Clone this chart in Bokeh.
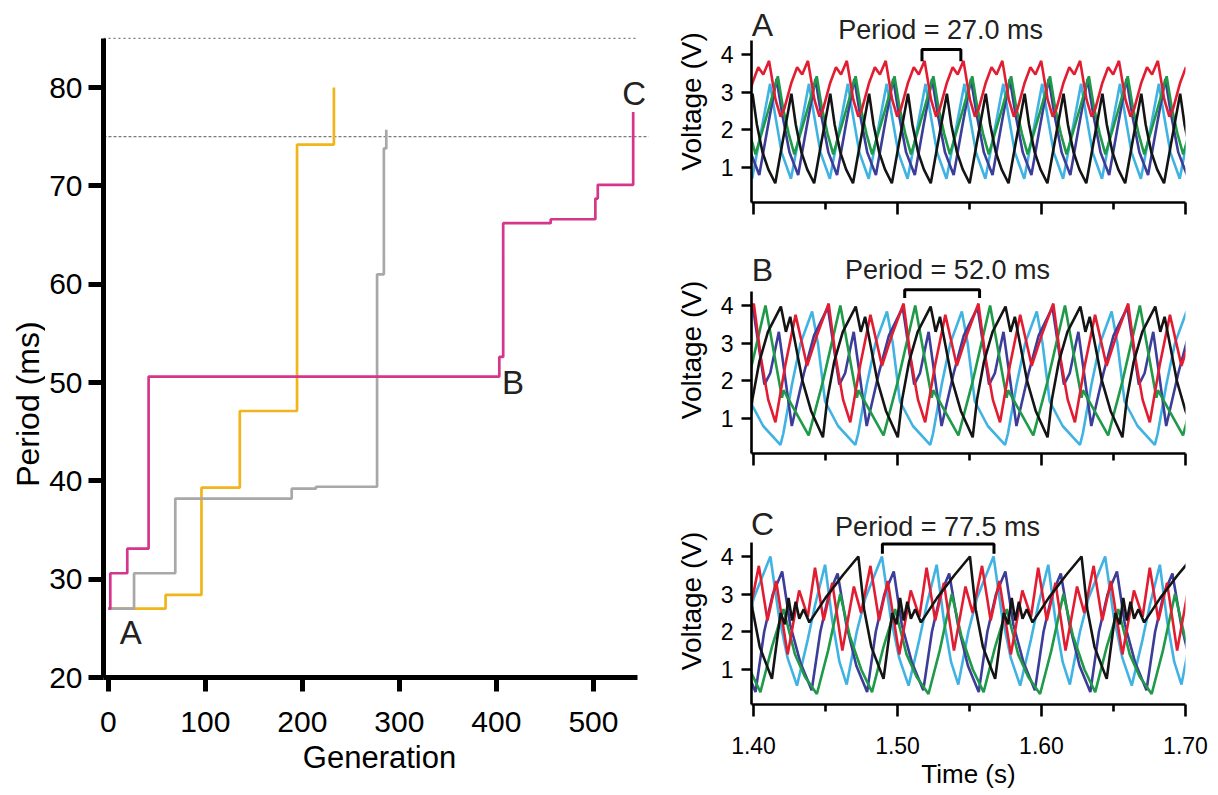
import numpy as np
from bokeh.plotting import figure
from bokeh.layouts import row, column
from bokeh.models import (Label, FixedTicker, Range1d, NumeralTickFormatter,
                          CustomJSTickFormatter)
from bokeh.core.properties import value
from bokeh.embed import file_html
from bokeh.resources import INLINE

FONT = "Liberation Sans"

# ---------------- Left panel: best period vs generation (step traces) ----------------
gen_yellow = [0, 59, 96, 135.5, 194.5, 232.5]
period_yellow = [27.0, 28.4, 39.3, 47.1, 74.2, 80.0]
gen_gray = [0, 26.5, 69, 189, 214, 277, 284, 286.5]
period_gray = [27.0, 30.6, 38.2, 39.2, 39.4, 61.0, 73.8, 75.7]
gen_magenta = [0, 2, 19.5, 41.5, 403, 407, 456, 502, 504.5, 541]
period_magenta = [27.0, 30.6, 33.1, 50.6, 52.6, 66.2, 66.6, 68.7, 70.1, 77.5]

gen_ticks = [0, 100, 200, 300, 400, 500]
period_ticks = [20, 30, 40, 50, 60, 70, 80]
ref_periods = [85, 75]
ref_line_gen_end = [545, 557]

marker_names = ["A", "B", "C"]
marker_gen = [23, 417, 542]
marker_period = [24.6, 50.0, 79.4]

# ---------------- Right panels: voltage traces ----------------
time_ticks = [1.40, 1.50, 1.60, 1.70]
time_minor_ticks = [1.45, 1.55, 1.65]
voltage_ticks = [1, 2, 3, 4]
panel_periods_ms = [27.0, 52.0, 77.5]
bracket_start_s = [1.5170, 1.5050, 1.4895]

trace_colors = ["#41b3e3", "#3c3c99", "#1f9a48", "#e21d32", "#141414"]  # cyan, purple, green, red, black

# one oscillation cycle of each trace
# (times in ms after 1.40 s, voltages in V); the cycle repeats with the panel period
A_cyan_t = [-1.0, 5.0, 11.5, 15.0, 19.5]
A_cyan_v = [0.70, 1.90, 3.22, 2.40, 1.40]
A_purple_t = [4.0, 10.0, 16.0, 20.0, 25.0]
A_purple_v = [0.80, 2.10, 3.35, 2.40, 1.40]
A_green_t = [1.4, 9.4, 16.9, 20.4, 24.4]
A_green_v = [1.35, 2.40, 3.42, 2.60, 1.90]
A_red_t = [-0.7, 3.3, 6.8, 10.8, 15.3, 18.8, 21.3]
A_red_v = [3.25, 3.66, 3.47, 3.83, 2.80, 2.35, 2.55]
A_black_t = [-0.7, 2.3, 6.3, 10.3, 15.1, 20.3]
A_black_v = [2.96, 2.15, 1.40, 0.95, 0.58, 1.70]

B_cyan_t = [18.7, 20.7, 26.7, 32.7, 40.7, 44.7, 49.7, 58.7]
B_cyan_v = [0.30, 0.60, 1.90, 3.00, 3.84, 3.00, 1.45, 0.80]
B_purple_t = [-0.4, 7.6, 11.6, 17.6, 26.6, 35.0, 42.0]
B_purple_v = [3.95, 1.90, 2.20, 3.30, 0.80, 2.20, 3.20]
B_green_t = [8.3, 19.8, 20.8, 38.3, 48.3, 54.3]
B_green_v = [4.00, 1.55, 1.75, 0.55, 2.00, 3.00]
B_red_t = [0.2, 5.2, 10.2, 15.2, 22.0, 29.2, 37.2, 44.0]
B_red_v = [4.05, 2.60, 1.50, 0.90, 2.40, 3.75, 2.40, 3.20]
B_black_t = [19.0, 22.5, 25.5, 29.0, 34.0, 40.0, 48.2, 51.2, 56.0, 62.0]
B_black_v = [3.97, 3.30, 3.70, 3.00, 2.00, 1.20, 0.50, 1.50, 2.50, 3.30]

C_cyan_t = [11.7, 17.7, 23.7, 30.2, 37.7, 42.7, 49.7, 54.7, 59.7, 64.7, 71.7, 77.7]
C_cyan_v = [4.00, 2.40, 1.30, 0.57, 1.80, 2.70, 3.78, 2.30, 1.20, 0.60, 2.00, 2.90]
C_purple_t = [1.4, 7.4, 13.4, 19.9, 25.4, 32.4, 40.4, 46.4, 52.4, 58.4, 64.4, 71.4]
C_purple_v = [0.40, 2.00, 3.00, 3.60, 2.20, 1.20, 0.45, 2.00, 3.00, 3.55, 2.20, 1.10]
C_green_t = [4.8, 12.8, 20.8, 22.8, 28.8, 35.8, 44.0, 51.8, 60.2, 66.8, 74.8]
C_green_v = [0.40, 1.60, 2.60, 2.30, 1.40, 0.80, 0.35, 1.50, 3.00, 1.90, 1.00]
C_red_t = [3.7, 9.7, 15.7, 23.7, 31.7, 37.7, 42.7, 48.7, 54.7, 61.7, 69.7, 74.7]
C_red_v = [3.75, 2.30, 3.35, 1.40, 3.10, 2.40, 3.70, 2.30, 3.30, 1.50, 3.20, 2.50]
C_black_t = [12.8, 18.8, 21.8, 24.3, 26.8, 29.3, 31.8, 34.8, 38.8, 50.0, 62.0, 72.8, 76.8, 81.8]
C_black_v = [0.75, 2.50, 2.20, 2.90, 2.30, 2.80, 2.35, 2.60, 2.25, 2.90, 3.50, 4.00, 2.60, 1.60]

panel_traces = [
    [(A_cyan_t, A_cyan_v), (A_purple_t, A_purple_v), (A_green_t, A_green_v), (A_red_t, A_red_v), (A_black_t, A_black_v)],
    [(B_cyan_t, B_cyan_v), (B_purple_t, B_purple_v), (B_green_t, B_green_v), (B_red_t, B_red_v), (B_black_t, B_black_v)],
    [(C_cyan_t, C_cyan_v), (C_purple_t, C_purple_v), (C_green_t, C_green_v), (C_red_t, C_red_v), (C_black_t, C_black_v)],
]


def tile_cycle(t_ms, v, period_ms, t0=1.40, t1=1.70):
    xs, ys = [], []
    n = int(np.ceil((t1 - t0) * 1000.0 / period_ms)) + 2
    for k in range(-1, n):
        for tt, vv in zip(t_ms, v):
            xs.append(t0 + (tt + k * period_ms) / 1000.0)
            ys.append(vv)
    return xs, ys


def style_axis(ax, lw, tick_out, label_size, label_standoff, axis_label_size, axis_label_standoff):
    ax.axis_line_width = lw
    ax.axis_line_color = "black"
    ax.major_tick_line_width = lw
    ax.major_tick_line_color = "black"
    ax.major_tick_in = 0
    ax.major_tick_out = tick_out
    ax.minor_tick_line_color = None
    ax.major_label_text_font = FONT
    ax.major_label_text_font_size = f"{label_size}px"
    ax.major_label_text_color = "black"
    ax.major_label_standoff = label_standoff
    ax.axis_label_text_font = FONT
    ax.axis_label_text_font_size = f"{axis_label_size}px"
    ax.axis_label_text_font_style = "normal"
    ax.axis_label_text_color = "black"
    ax.axis_label_standoff = axis_label_standoff


LEFT_TOP, LEFT_BOTTOM, LEFT_FRAME_H = 28, 110, 649
period_range = (20, 86)

# ---------------- y-label strip (the original places it below the axis centre) ----------------
label_strip = figure(frame_width=45, frame_height=LEFT_FRAME_H,
                     x_range=Range1d(0, 45), y_range=Range1d(*period_range),
                     min_border_left=0, min_border_right=0,
                     min_border_top=LEFT_TOP, min_border_bottom=LEFT_BOTTOM,
                     x_axis_location=None, y_axis_location=None,
                     output_backend="svg", toolbar_location=None)
label_strip.outline_line_color = None
label_strip.grid.visible = False
label_strip.text(x=[27], y=[47.8], text=["Period (ms)"], angle=np.pi / 2,
                 text_font=value(FONT), text_font_size="32px", text_align="center",
                 text_baseline="middle", text_color="black")

# ---------------- left figure ----------------
left = figure(frame_width=552, frame_height=LEFT_FRAME_H,
              x_range=Range1d(-5, 564), y_range=Range1d(*period_range),
              min_border_left=58, min_border_right=0,
              min_border_top=LEFT_TOP, min_border_bottom=LEFT_BOTTOM,
              output_backend="svg", toolbar_location=None)
left.outline_line_color = None
left.grid.visible = False

for yref, xend, dash in zip(ref_periods, ref_line_gen_end, ["2 3", "3 2"]):
    left.line([-5, xend], [yref, yref], line_color="#7a7a7a", line_width=1.3, line_dash=dash)

left.step(gen_yellow, period_yellow, mode="after", line_color="#f1b51c", line_width=2.7)
left.step(gen_gray, period_gray, mode="after", line_color="#a8a8a8", line_width=2.7)
left.step(gen_magenta, period_magenta, mode="after", line_color="#d5368c", line_width=2.7)

for name, gx, py in zip(marker_names, marker_gen, marker_period):
    left.add_layout(Label(x=gx, y=py, text=name, text_font=FONT, text_font_size="33px",
                          text_align="center", text_baseline="middle", text_color="#222222"))

left.xaxis.ticker = FixedTicker(ticks=gen_ticks)
left.yaxis.ticker = FixedTicker(ticks=period_ticks)
left.xaxis.bounds = (-5, 545)
left.yaxis.bounds = (20, 85)
left.xaxis.axis_label = "Generation"
style_axis(left.xaxis[0], 5, 14, 30, 20, 31, 5)
style_axis(left.yaxis[0], 5, 15, 30, 6, 31, 3)

# ---------------- right figures ----------------
panel_names = ["A", "B", "C"]
frame_heights = [202, 207, 207]
bottom_borders = [44, 44, 90]
px_per_volt = 37.67
letter_v = [4.77, 4.93, 4.85]
period_label_x = [1.5299, 1.5347, 1.5278]
period_label_v = [4.66, 4.93, 4.77]
bracket_top_v = [4.13, 4.42, 4.33]
bracket_leg_v = [3.82, 4.20, 4.07]

panels = []
for i in range(3):
    P = panel_periods_ms[i]
    v_top = 0.07 + frame_heights[i] / px_per_volt
    p = figure(frame_width=434, frame_height=frame_heights[i],
               x_range=Range1d(1.3986, 1.70), y_range=Range1d(0.07, v_top),
               min_border_left=96, min_border_right=25,
               min_border_top=0, min_border_bottom=bottom_borders[i],
               output_backend="svg", toolbar_location=None)
    p.outline_line_color = None
    p.grid.visible = False
    for (tt, vv), col in zip(panel_traces[i], trace_colors):
        xs, ys = tile_cycle(tt, vv, P)
        p.line(xs, ys, line_color=col, line_width=2.6)
    b0 = bracket_start_s[i]
    b1 = b0 + P / 1000.0
    p.line([b0, b0, b1, b1], [bracket_leg_v[i], bracket_top_v[i], bracket_top_v[i], bracket_leg_v[i]],
           line_color="black", line_width=3)
    p.add_layout(Label(x=1.4062, y=letter_v[i], text=panel_names[i], text_font=FONT,
                       text_font_size="32px", text_align="center", text_baseline="middle",
                       text_color="#222222"))
    p.add_layout(Label(x=period_label_x[i], y=period_label_v[i], text=f"Period = {P:.1f} ms",
                       text_font=FONT, text_font_size="27px", text_align="center",
                       text_baseline="middle", text_color="#222222"))
    p.xaxis.ticker = FixedTicker(ticks=time_ticks, minor_ticks=time_minor_ticks)
    p.yaxis.ticker = FixedTicker(ticks=voltage_ticks)
    p.yaxis.bounds = (0.07, 4.37)
    p.yaxis.axis_label = "Voltage (V)"
    style_axis(p.xaxis[0], 2.6, 12, 23, 20, 26, 2)
    style_axis(p.yaxis[0], 2.6, 10, 23, 8, 28, 11)
    p.xaxis.minor_tick_line_color = "black"
    p.xaxis.minor_tick_line_width = 2.6
    p.xaxis.minor_tick_in = 0
    p.xaxis.minor_tick_out = 7
    if i < 2:
        p.xaxis.formatter = CustomJSTickFormatter(code="return '';")
    else:
        p.xaxis.formatter = NumeralTickFormatter(format="0.00")
        p.xaxis.axis_label = "Time (s)"
    panels.append(p)

layout = row(label_strip, left, column(*panels))
open("out.html", "w").write(file_html(layout, INLINE))
